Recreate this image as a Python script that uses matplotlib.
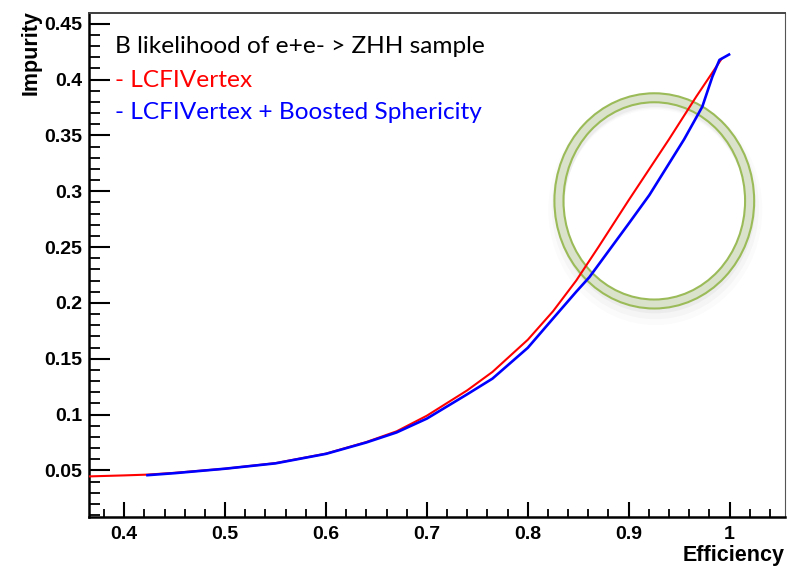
import matplotlib
matplotlib.use("Agg")
import matplotlib.pyplot as plt
from matplotlib.patches import Ellipse
from matplotlib.ticker import MultipleLocator

# ---- data ----
red_eff = [0.365, 0.40, 0.423, 0.45, 0.50, 0.55, 0.60, 0.64, 0.67, 0.70, 0.74, 0.765,
           0.80, 0.825, 0.848, 0.87, 0.90, 0.94, 0.967, 0.992]
red_imp = [0.0446, 0.0455, 0.0462, 0.0478, 0.0515, 0.0565, 0.0650, 0.0754, 0.0850, 0.0990,
           0.1217, 0.1382, 0.1670, 0.1925, 0.2200, 0.2500, 0.2920, 0.3466, 0.3848, 0.4185]

blue_eff = [0.423, 0.45, 0.50, 0.55, 0.60, 0.64, 0.67, 0.70, 0.74, 0.765, 0.80, 0.825,
            0.848, 0.861, 0.90, 0.9205, 0.955, 0.973, 0.983, 0.990, 0.9995]
blue_imp = [0.0457, 0.0475, 0.0515, 0.0563, 0.0648, 0.0750, 0.0840, 0.0964, 0.1182, 0.1322,
            0.1598, 0.1860, 0.2100, 0.2230, 0.2710, 0.2966, 0.3466, 0.3758, 0.4027, 0.4177, 0.4225]

x_ticks = [0.4, 0.5, 0.6, 0.7, 0.8, 0.9, 1.0]
x_tick_labels = ["0.4", "0.5", "0.6", "0.7", "0.8", "0.9", "1"]
y_ticks = [0.05, 0.10, 0.15, 0.20, 0.25, 0.30, 0.35, 0.40, 0.45]
y_tick_labels = ["0.05", "0.1", "0.15", "0.2", "0.25", "0.3", "0.35", "0.4", "0.45"]

title_text = "B likelihood of e+e- > ZHH sample"
red_label = "- LCFIVertex"
blue_label = "- LCFIVertex + Boosted Sphericity"

# ---- figure ----
fig = plt.figure(figsize=(7.87, 5.66), dpi=100)
ax = fig.add_axes([0.113, 0.0871, 0.8845, 0.8905])

ax.plot(red_eff, red_imp, color="#ff0000", lw=1.5, zorder=3)
ax.plot(blue_eff, blue_imp, color="#0000ff", lw=1.9, zorder=4)

ax.set_xlim(0.365, 1.055)
ax.set_ylim(0.0085, 0.460)

tick_font = dict(family="Liberation Sans", weight="bold", size=14)
ax.set_xticks(x_ticks)
ax.set_xticklabels(x_tick_labels, fontdict=tick_font)
ax.set_yticks(y_ticks)
ax.set_yticklabels(y_tick_labels, fontdict=tick_font)
ax.xaxis.set_minor_locator(MultipleLocator(0.02))
ax.yaxis.set_minor_locator(MultipleLocator(0.01))

ax.tick_params(axis="x", which="major", direction="in", length=11, width=1.5, pad=7)
ax.tick_params(axis="x", which="minor", direction="in", length=5.8, width=1.3)
ax.tick_params(axis="y", which="major", direction="in", length=15, width=1.5, pad=5)
ax.tick_params(axis="y", which="minor", direction="in", length=8, width=1.3)

for s in ["left", "bottom"]:
    ax.spines[s].set_linewidth(1.8)
    ax.spines[s].set_color("black")
ax.spines["top"].set_linewidth(1.4)
ax.spines["top"].set_color("#444444")
ax.spines["right"].set_linewidth(0.8)
ax.spines["right"].set_color("#555555")

# ---- text ----
txt_font = dict(family=["Lato", "DejaVu Sans"], size=17.6)
ax.text(0.0374, 0.920, title_text, transform=ax.transAxes, color="black",
        va="baseline", ha="left", **txt_font)
ax.text(0.0374, 0.853, red_label, transform=ax.transAxes, color="#ff0000",
        va="baseline", ha="left", **txt_font)
ax.text(0.0374, 0.789, blue_label, transform=ax.transAxes, color="#0000ff",
        va="baseline", ha="left", **txt_font)

lab_font = dict(family="Liberation Sans", weight="bold", size=15.5)
fig.text(785 / 787, 5 / 566, "Efficiency", ha="right", va="baseline", **lab_font)
fig.text(31 / 787, 1 - 10 / 566, "Impurity", ha="center", va="top", rotation=90, **lab_font)

# ---- highlight ring annotation ----
cx, cy = 0.9254, 0.2914
for i, a in enumerate([0.035, 0.025, 0.015]):
    ax.add_patch(Ellipse((cx + 0.001, cy - 0.004 - 0.002 * i), 0.189 + 0.004 * i, 0.1848 + 0.004 * i,
                         fill=False, lw=7 + 2 * i, ec="black", alpha=a, zorder=1))
ax.add_patch(Ellipse((cx, cy), 0.189, 0.1848, fill=False, lw=6.5, ec="#dae2cb", zorder=2))
ax.add_patch(Ellipse((cx, cy), 0.198, 0.1928, fill=False, lw=1.5, ec="#9bbb59", zorder=2))
ax.add_patch(Ellipse((cx, cy), 0.180, 0.1767, fill=False, lw=1.5, ec="#9bbb59", zorder=2))

fig.savefig("out.png", dpi=100)
